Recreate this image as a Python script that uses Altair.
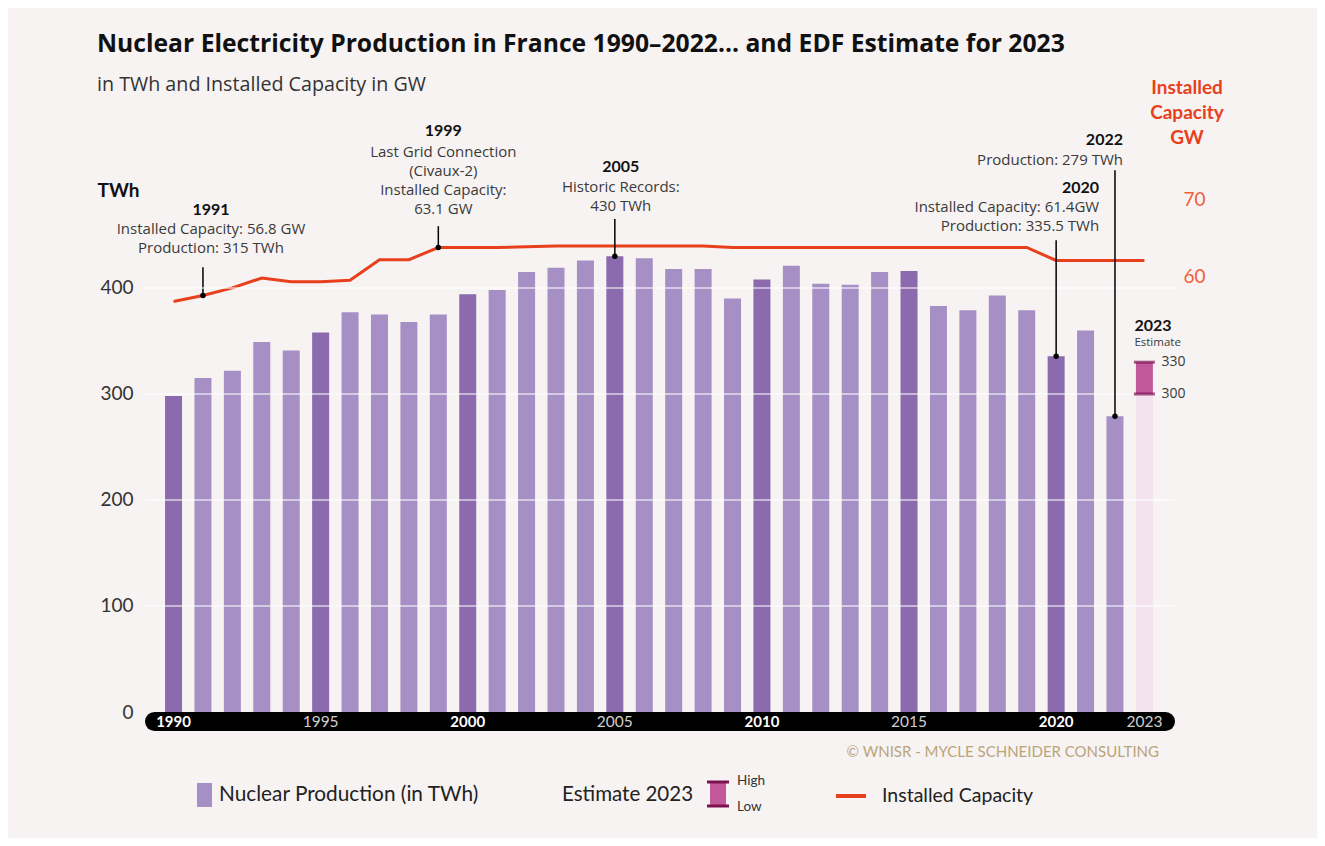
import altair as alt
import pandas as pd

FONT = "Lato"
FONT2 = "Open Sans"

# ---------------- data ----------------
years = list(range(1990, 2023))
production = [298, 315, 322, 349, 341, 358, 377, 375, 368, 375,
              394, 398, 415, 419, 426, 430, 428, 418, 418, 390,
              408, 421, 404, 403, 415, 416, 383, 379, 393, 379,
              335.5, 360, 279]
milestone_years = [1990, 1995, 2000, 2005, 2010, 2015, 2020]

cap_years = list(range(1990, 2024))
capacity = [56.0, 56.8, 57.8, 59.1, 58.6, 58.6, 58.8, 61.5, 61.5, 63.1,
            63.1, 63.1, 63.2, 63.3, 63.3, 63.3, 63.3, 63.3, 63.3, 63.1,
            63.1, 63.1, 63.1, 63.1, 63.1, 63.1, 63.1, 63.1, 63.1, 63.1,
            61.4, 61.4, 61.4, 61.4]

est_year = [2023]
est_low = [300]
est_high = [330]

grid_values = [100, 200, 300, 400]
left_ticks = [0, 100, 200, 300, 400]
right_ticks = [60, 70]

axis_years = [1990, 1995, 2000, 2005, 2010, 2015, 2020, 2023]
axis_bold = [True, False, True, False, True, False, True, False]

# annotation leaders (year, value at mark, top of leader)
lead_cap_years = [1991, 1999]
lead_cap_values = [56.8, 63.1]
lead_cap_tops = [60.5, 65.9]
lead_prod_years = [2005, 2020, 2022]
lead_prod_values = [430, 335.5, 279]
lead_prod_tops = [465, 445, 511]

# annotation texts: (year, dx, text, page_y, bold, align)
annotations = [
    (1991, 8, "1991", 210, True, "center"),
    (1991, 8, "Installed Capacity: 56.8 GW", 229, False, "center"),
    (1991, 8, "Production: 315 TWh", 248, False, "center"),
    (1999, 5, "1999", 131, True, "center"),
    (1999, 5, "Last Grid Connection", 152, False, "center"),
    (1999, 5, "(Civaux-2)", 171, False, "center"),
    (1999, 5, "Installed Capacity:", 190, False, "center"),
    (1999, 5, "63.1 GW", 209, False, "center"),
    (2005, 6, "2005", 167, True, "center"),
    (2005, 6, "Historic Records:", 187, False, "center"),
    (2005, 6, "430 TWh", 206, False, "center"),
    (2020, 43, "2020", 188, True, "right"),
    (2020, 43, "Installed Capacity: 61.4GW", 207, False, "right"),
    (2020, 43, "Production: 335.5 TWh", 226, False, "right"),
    (2022, 8, "2022", 140, True, "right"),
    (2022, 8, "Production: 279 TWh", 160, False, "right"),
]

# ---------------- geometry ----------------
W, H = 1030, 547.5
OX, OY = 145, 164.5  # plot origin on page

LIGHT = "#a68fc5"
DARK = "#8b6aad"
PALE = "#f3e3f0"
MAGENTA = "#c1599b"
PLUM = "#7d1150"
ORANGE = "#e8401c"
ORANGE_LBL = "#f0603a"
TXT = "#3a3a3a"

XS = alt.Scale(domain=[1989.2, 2023.87], nice=False, zero=False)
YL = alt.Scale(domain=[0, 516.5], nice=False)
YR = alt.Scale(domain=[2.1, 74.0], nice=False, zero=False)


def X(field="year"):
    return alt.X(f"{field}:Q", scale=XS, axis=None)


def free_text(text, px, py, size, weight="normal", color=TXT, align="left", font=FONT):
    return alt.Chart(pd.DataFrame({"t": [text]})).mark_text(
        align=align, baseline="middle", fontSize=size, fontWeight=weight,
        color=color, font=font
    ).encode(text="t:N", x=alt.value(px - OX), y=alt.value(py - OY))


left_axis = alt.Axis(
    orient="left", values=left_ticks, labelFontSize=19, labelColor="#333",
    labelFont=FONT, domain=False, ticks=False, grid=False, labelPadding=12,
    title="TWh", titleAngle=0, titleFontSize=19, titleFontWeight="bold",
    titleFont=FONT, titleColor="#111", titleX=-48, titleY=25.5,
    titleAlign="left", titleBaseline="middle",
)
right_axis = alt.Axis(
    orient="right", values=right_ticks, labelFontSize=19, labelColor=ORANGE_LBL,
    labelFont=FONT, domain=False, ticks=False, grid=False, labelPadding=8,
    labelOffset=5, title=None,
)


def YLft(field):
    return alt.Y(f"{field}:Q", scale=YL, axis=left_axis)


def YRgt(field):
    return alt.Y(f"{field}:Q", scale=YR, axis=right_axis)


# ---------------- right (GW) layers: drawn first ----------------
cap_df = pd.DataFrame({"year": cap_years, "gw": capacity})
cap_line = alt.Chart(cap_df).mark_line(color=ORANGE, strokeWidth=3).encode(
    x=X(), y=YRgt("gw"))

lcap_df = pd.DataFrame({"year": lead_cap_years, "v": lead_cap_values, "top": lead_cap_tops})
lcap_rules = alt.Chart(lcap_df).mark_rule(color="black", strokeWidth=1.5).encode(
    x=X(), y=YRgt("v"), y2="top:Q")
lcap_dots = alt.Chart(lcap_df).mark_circle(color="black", size=30, opacity=1).encode(
    x=X(), y=YRgt("v"))

right_layer = alt.layer(cap_line, lcap_rules, lcap_dots)

# ---------------- left (TWh) layers ----------------
prod_df = pd.DataFrame({
    "year": years,
    "twh": production,
    "kind": ["milestone" if y in milestone_years else "regular" for y in years],
})

bars = alt.Chart(prod_df).mark_bar(size=17).encode(
    x=X(),
    y=YLft("twh"),
    color=alt.Color("kind:N", scale=alt.Scale(domain=["regular", "milestone"],
                                              range=[LIGHT, DARK]), legend=None),
)

est_df = pd.DataFrame({"year": est_year, "low": est_low, "high": est_high})
est_pale = alt.Chart(est_df).mark_bar(size=17, color=PALE).encode(
    x=X(), y=YLft("low"))

grid_df = pd.DataFrame({"v": grid_values})
grid = alt.Chart(grid_df).mark_rule(color="white", strokeWidth=1.5, opacity=0.7).encode(
    y=YLft("v"), x=alt.value(0), x2=alt.value(W))

est_range = alt.Chart(est_df).mark_bar(size=17, color=MAGENTA).encode(
    x=X(), y=YLft("low"), y2="high:Q")

est_caps_df = pd.DataFrame({"year": est_year * 2, "v": est_low + est_high})
est_caps = alt.Chart(est_caps_df).mark_tick(
    orient="horizontal", size=21, thickness=3, color=PLUM).encode(
    x=X(), y=YLft("v"))
est_labels = alt.Chart(est_caps_df).mark_text(
    align="left", baseline="middle", dx=17, fontSize=14, color=TXT, font=FONT2).encode(
    x=X(), y=YLft("v"), text=alt.Text("v:Q", format="d"))

lprod_df = pd.DataFrame({"year": lead_prod_years, "v": lead_prod_values, "top": lead_prod_tops})
lprod_rules = alt.Chart(lprod_df).mark_rule(color="black", strokeWidth=1.5).encode(
    x=X(), y=YLft("v"), y2="top:Q")
lprod_dots = alt.Chart(lprod_df).mark_circle(color="black", size=30, opacity=1).encode(
    x=X(), y=YLft("v"))

left_base = alt.layer(bars, est_pale, grid, est_range, est_caps, est_labels,
                      lprod_rules, lprod_dots)

# ---------------- free annotations (no y scale) ----------------
ann_layers = []
for (yr, dx, txt, py, bold, align) in annotations:
    ann_layers.append(
        alt.Chart(pd.DataFrame({"year": [yr], "t": [txt]})).mark_text(
            align=align, baseline="middle", dx=dx,
            fontSize=16 if bold else 15,
            fontWeight="bold" if bold else "normal",
            color="#111" if bold else TXT, font=FONT if bold else FONT2,
        ).encode(x=X(), y=alt.value(py - OY), text="t:N")
    )

est_title = alt.Chart(pd.DataFrame({"year": est_year, "t": ["2023"]})).mark_text(
    align="left", baseline="middle", dx=-10, fontSize=16, fontWeight="bold",
    color="#111", font=FONT).encode(x=X(), y=alt.value(326 - OY), text="t:N")
est_sub = alt.Chart(pd.DataFrame({"year": est_year, "t": ["Estimate"]})).mark_text(
    align="left", baseline="middle", dx=-10, fontSize=11.5, color=TXT,
    font=FONT2).encode(x=X(), y=alt.value(343 - OY), text="t:N")

# black pill x-axis with year labels
pill = alt.Chart(pd.DataFrame({"a": [0]})).mark_rule(
    strokeWidth=19, strokeCap="round", color="black").encode(
    x=alt.value(9.5), x2=alt.value(W - 9.5), y=alt.value(721.5 - OY))
ax_df = pd.DataFrame({"year": axis_years, "bold": axis_bold})
ax_bold = alt.Chart(ax_df[ax_df["bold"]]).mark_text(
    fontSize=15, fontWeight="bold", color="white", baseline="middle", font=FONT).encode(
    x=X(), y=alt.value(722 - OY), text="year:N")
ax_reg = alt.Chart(ax_df[~ax_df["bold"]]).mark_text(
    fontSize=15.5, color="#cfcfcf", baseline="middle", font=FONT).encode(
    x=X(), y=alt.value(722 - OY), text="year:N")

# titles and right axis title
title = free_text("Nuclear Electricity Production in France 1990\u20132022... and EDF Estimate for 2023",
                  97, 45, 24.7, weight="bold", color="#111", font=FONT2)
subtitle = free_text("in TWh and Installed Capacity in GW", 97, 85, 19.7, color="#333", font=FONT2)
rt1 = free_text("Installed", 1187, 88, 19, weight="bold", color=ORANGE, align="center")
rt2 = free_text("Capacity", 1187, 113, 19, weight="bold", color=ORANGE, align="center")
rt3 = free_text("GW", 1187, 138, 19, weight="bold", color=ORANGE, align="center")

credit = free_text("\u00a9 WNISR - MYCLE SCHNEIDER CONSULTING", 1159, 752, 15,
                   color="#b9a57a", align="right")

# custom legend
leg_sq = alt.Chart(pd.DataFrame({"a": [0]})).mark_rect(color=LIGHT).encode(
    x=alt.value(197 - OX), x2=alt.value(212 - OX), y=alt.value(783 - OY), y2=alt.value(807 - OY))
leg_t1 = free_text("Nuclear Production (in TWh)", 219, 795, 20.8, color="#222")
leg_t2 = free_text("Estimate 2023", 562, 795, 20.5, color="#222")
leg_ib = alt.Chart(pd.DataFrame({"a": [0]})).mark_rect(color=MAGENTA).encode(
    x=alt.value(710 - OX), x2=alt.value(726 - OX), y=alt.value(782 - OY), y2=alt.value(806 - OY))
leg_cap1 = alt.Chart(pd.DataFrame({"a": [0]})).mark_rule(color=PLUM, strokeWidth=3).encode(
    x=alt.value(707 - OX), x2=alt.value(729 - OX), y=alt.value(782 - OY))
leg_cap2 = alt.Chart(pd.DataFrame({"a": [0]})).mark_rule(color=PLUM, strokeWidth=3).encode(
    x=alt.value(707 - OX), x2=alt.value(729 - OX), y=alt.value(806 - OY))
leg_hi = free_text("High", 737, 781, 13.5, color="#333")
leg_lo = free_text("Low", 737, 807, 13.5, color="#333")
leg_line = alt.Chart(pd.DataFrame({"a": [0]})).mark_rule(color=ORANGE, strokeWidth=4).encode(
    x=alt.value(836 - OX), x2=alt.value(866 - OX), y=alt.value(796 - OY))
leg_t3 = free_text("Installed Capacity", 882, 796, 19.5, color="#222")

free_layer = alt.layer(
    *ann_layers, est_title, est_sub,
    pill, ax_bold, ax_reg, title, subtitle, rt1, rt2, rt3, credit,
    leg_sq, leg_t1, leg_t2, leg_ib, leg_cap1, leg_cap2, leg_hi, leg_lo, leg_line, leg_t3,
)

chart = alt.layer(right_layer, left_base, free_layer).resolve_scale(
    y="independent"
).properties(
    width=W, height=H,
    autosize=alt.AutoSizeParams(type="none"),
    padding={"left": 137, "top": 156.5, "right": 142, "bottom": 126},
    background="#f7f3f2",
).configure(font=FONT).configure_view(stroke=None)

chart.save("out.html", embed_options={"renderer": "svg", "actions": False})
